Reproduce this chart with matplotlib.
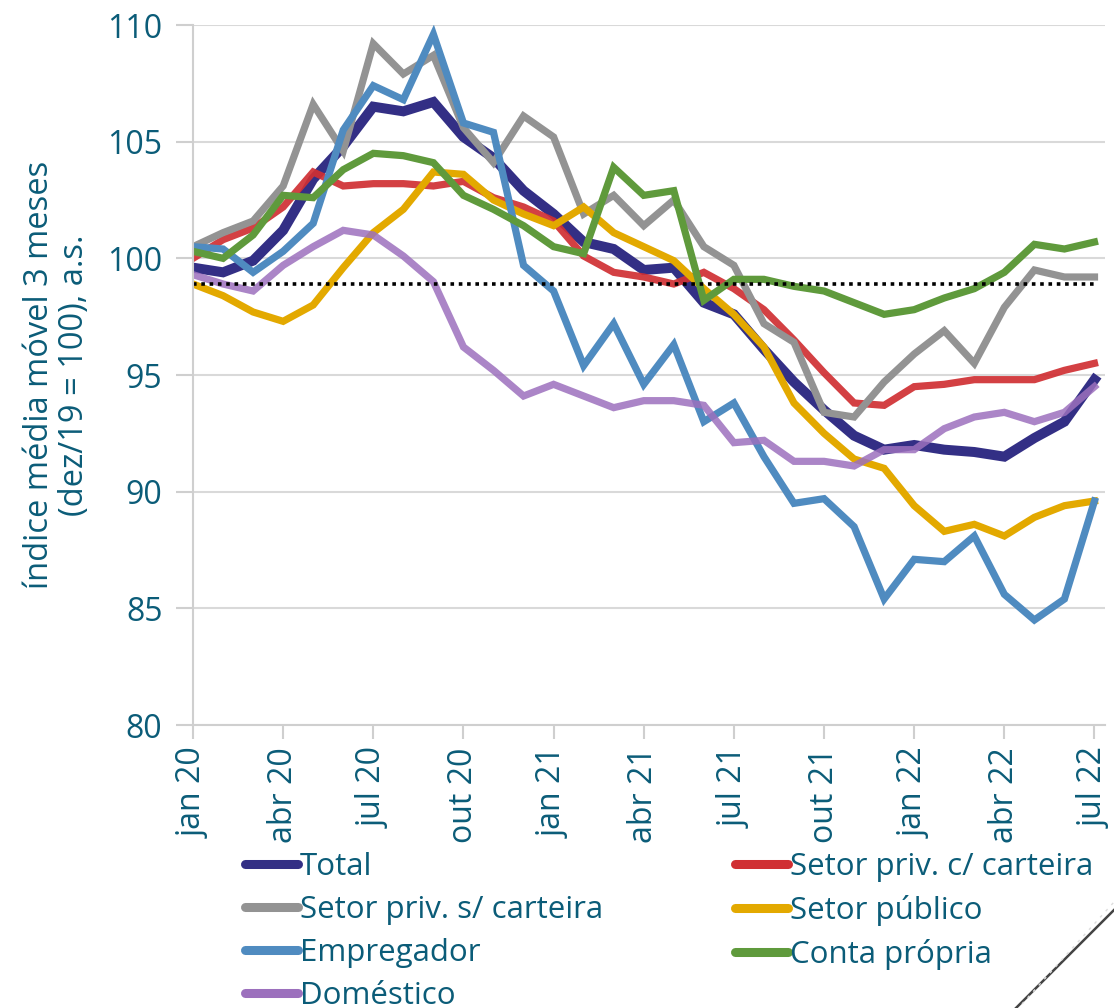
import matplotlib
matplotlib.use("Agg")
import matplotlib.pyplot as plt
from matplotlib.lines import Line2D

# meses jan/20 .. jul/22
meses = ["jan", "fev", "mar", "abr", "mai", "jun", "jul", "ago", "set", "out", "nov", "dez"]
rotulos = [f"{meses[i % 12]} {20 + i // 12}" for i in range(31)]

total = [99.6, 99.4, 99.9, 101.2, 103.4, 104.8, 106.5, 106.3, 106.7, 105.2, 104.3,
         102.9, 101.9, 100.7, 100.4, 99.5, 99.6, 98.1, 97.6, 96.1, 94.7,
         93.5, 92.4, 91.8, 92.0, 91.8, 91.7, 91.5, 92.3, 93.0, 94.8]
priv_com = [100.0, 100.8, 101.3, 102.2, 103.7, 103.1, 103.2, 103.2, 103.1, 103.3, 102.6,
            102.2, 101.6, 100.1, 99.4, 99.2, 98.9, 99.4, 98.7, 97.8, 96.5,
            95.1, 93.8, 93.7, 94.5, 94.6, 94.8, 94.8, 94.8, 95.2, 95.5]
priv_sem = [100.5, 101.1, 101.6, 103.1, 106.6, 104.6, 109.2, 107.9, 108.7, 105.6, 104.1,
            106.1, 105.2, 101.9, 102.7, 101.4, 102.5, 100.5, 99.7, 97.2, 96.4,
            93.4, 93.2, 94.7, 95.9, 96.9, 95.5, 97.9, 99.5, 99.2, 99.2]
publico = [98.9, 98.4, 97.7, 97.3, 98.0, 99.6, 101.1, 102.1, 103.7, 103.6, 102.5,
           101.9, 101.4, 102.2, 101.1, 100.5, 99.9, 98.7, 97.6, 96.2, 93.8,
           92.5, 91.4, 91.0, 89.4, 88.3, 88.6, 88.1, 88.9, 89.4, 89.6]
empregador = [100.5, 100.4, 99.4, 100.3, 101.5, 105.5, 107.4, 106.8, 109.6, 105.8, 105.4,
              99.7, 98.6, 95.4, 97.2, 94.6, 96.3, 93.0, 93.8, 91.5, 89.5,
              89.7, 88.5, 85.4, 87.1, 87.0, 88.1, 85.6, 84.5, 85.4, 89.6]
conta_propria = [100.3, 100.0, 101.0, 102.7, 102.6, 103.8, 104.5, 104.4, 104.1, 102.7, 102.1,
                 101.4, 100.5, 100.2, 103.9, 102.7, 102.9, 98.2, 99.1, 99.1, 98.8,
                 98.6, 98.1, 97.6, 97.8, 98.3, 98.7, 99.4, 100.6, 100.4, 100.7]
domestico = [99.3, 98.9, 98.6, 99.7, 100.5, 101.2, 101.0, 100.1, 99.0, 96.2, 95.2,
             94.1, 94.6, 94.1, 93.6, 93.9, 93.9, 93.7, 92.1, 92.2, 91.3,
             91.3, 91.1, 91.8, 91.8, 92.7, 93.2, 93.4, 93.0, 93.4, 94.5]
referencia = 98.9

series = [
    ("Total", total, "#332F85", 7.2, 1.0),
    ("Setor priv. c/ carteira", priv_com, "#D02F33", 5.2, 0.92),
    ("Setor priv. s/ carteira", priv_sem, "#939393", 5.2, 1.0),
    ("Setor público", publico, "#E3A900", 5.2, 1.0),
    ("Empregador", empregador, "#4F8BC0", 5.2, 1.0),
    ("Conta própria", conta_propria, "#5F9A3C", 5.2, 1.0),
    ("Doméstico", domestico, "#9C70BD", 5.2, 0.85),
]

cor_texto = "#0B5C78"
fonte = ["Open Sans", "DejaVu Sans"]

fig = plt.figure(figsize=(11.14, 10.08), dpi=100)
ax = fig.add_axes([193 / 1114, 1 - 725 / 1008, 912 / 1114, 700 / 1008])

x = list(range(len(total)))
linhas = {}
for nome, vals, cor, lw, alpha in series:
    linhas[nome], = ax.plot(x, vals, color=cor, lw=lw, alpha=alpha,
                            solid_joinstyle="miter", label=nome)

ax.axhline(referencia, color="black", lw=2.6, ls=(0, (1, 1.3)), xmin=0, xmax=30 / 30.35)

ax.set_xlim(0, 30.35)
ax.set_ylim(80, 110)
ax.set_yticks(range(80, 111, 5))
ax.set_xticks(x[::3])
ax.set_xticklabels(rotulos[::3], rotation=90)
ax.grid(axis="y", color="#D9D9D9", lw=1.5)
ax.set_axisbelow(True)
for s in ["top", "right"]:
    ax.spines[s].set_visible(False)
for s in ["left", "bottom"]:
    ax.spines[s].set_color("#CFCFCF")
    ax.spines[s].set_linewidth(1.5)
ax.tick_params(axis="both", colors="#CFCFCF", width=1.5, labelcolor=cor_texto)
ax.tick_params(axis="x", length=10, pad=6)
ax.tick_params(axis="y", length=12, pad=10)
for t in ax.get_xticklabels() + ax.get_yticklabels():
    t.set_family(fonte)
    t.set_fontsize(23)

fig.text(57 / 1114, 1 - 375 / 1008,
         "índice média móvel 3 meses\n(dez/19 = 100), a.s.",
         rotation=90, ha="center", va="center", multialignment="center",
         color=cor_texto, fontsize=23.5, family=fonte, linespacing=1.05)

colunas = [
    (["Total", "Setor priv. s/ carteira", "Empregador", "Doméstico"], 245),
    (["Setor priv. c/ carteira", "Setor público", "Conta própria"], 735),
]
for nomes, xpos in colunas:
    alcas = [Line2D([], [], color=linhas[n].get_color(), lw=6.5, solid_capstyle="round")
             for n in nomes]
    leg = fig.legend(alcas, nomes, loc="upper left",
                     bbox_to_anchor=(xpos / 1114, 1 - 852 / 1008), frameon=False,
                     prop={"family": fonte, "size": 22.5},
                     handlelength=1.7, handletextpad=0.05, labelspacing=0.42,
                     borderaxespad=0, borderpad=0)
    for t in leg.get_texts():
        t.set_color(cor_texto)

# traço diagonal no canto inferior direito
fig.add_artist(Line2D([1016 / 1114, 1.0], [0.0, 1 - 910 / 1008],
                      transform=fig.transFigure, color="#444444", lw=1.8))
fig.add_artist(Line2D([1022 / 1114, 1.0], [0.004, 1 - 902 / 1008],
                      transform=fig.transFigure, color="#DDDDDD", lw=1.0, ls=(0, (2, 4))))

fig.savefig("out.png", dpi=100)
